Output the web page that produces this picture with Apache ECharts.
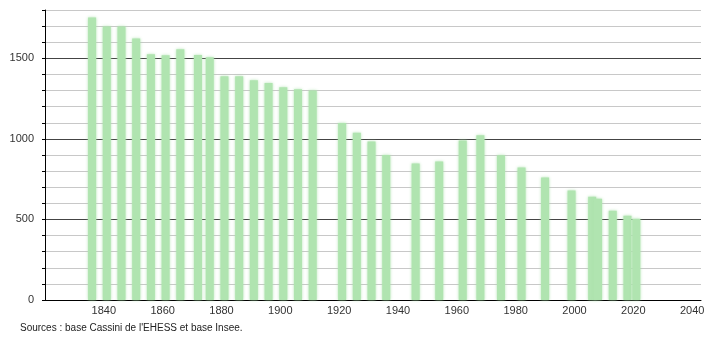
<!DOCTYPE html>
<html><head><meta charset="utf-8">
<script src="https://cdn.jsdelivr.net/npm/echarts@6/dist/echarts.min.js"></script>
<style>html,body{margin:0;padding:0;background:#fff}#c{width:710px;height:340px}</style>
</head><body><div id="c"></div>
<script>
var years = [1836,1841,1846,1851,1856,1861,1866,1872,1876,1881,1886,1891,1896,1901,1906,1911,1921,1926,1931,1936,1946,1954,1962,1968,1975,1982,1990,1999,2006,2008,2013,2018,2021];
var population = [1754,1698,1698,1623,1526,1519,1557,1521,1507,1389,1389,1364,1347,1320,1308,1300,1098,1038,984,900,847,859,990,1023,899,822,760,679,641,629,554,523,504];
var yLabels = [0,500,1000,1500];
var xLabels = [1840,1860,1880,1900,1920,1940,1960,1980,2000,2020,2040];
var sourceText = "Sources : base Cassini de l'EHESS et base Insee.";

var chart = echarts.init(document.getElementById('c'), null, {renderer:'canvas'});
chart.setOption({
  animation:false,
  backgroundColor:'#fff',
  grid:{left:45, right:9, top:10, bottom:40, containLabel:false},
  xAxis:{type:'value', min:1820, max:2043, interval:20,
    axisLine:{show:true, onZero:false, lineStyle:{color:'#000', width:1}},
    axisTick:{show:false},
    splitLine:{show:false},
    axisLabel:{margin:5, color:'#333', fontSize:11, fontFamily:'Liberation Sans, Arial, sans-serif',
      showMinLabel:false, showMaxLabel:false,
      formatter:function(v){return xLabels.indexOf(v)>=0 ? String(v) : '';}}
  },
  yAxis:{type:'value', min:0, max:1800, interval:100,
    axisLine:{show:true, lineStyle:{color:'#000', width:1}},
    axisTick:{show:true, length:3, lineStyle:{color:'#000'}},
    splitLine:{show:true, lineStyle:{color:['#444','#c8c8c8','#c8c8c8','#c8c8c8','#c8c8c8'], width:1}},
    axisLabel:{margin:11, color:'#333', fontSize:11, fontFamily:'Liberation Sans, Arial, sans-serif',
      formatter:function(v){return yLabels.indexOf(v)>=0 ? String(v) : '';}}
  },
  series:[{
    type:'bar', barWidth:8,
    data: years.map(function(y,i){return [y, population[i]];}),
    itemStyle:{color:'#b0e4b0', shadowBlur:3, shadowColor:'rgba(170,225,170,0.9)'}
  }],
  graphic:[{type:'text', left:20, top:323,
    style:{text:sourceText, fill:'#222', fontSize:10, fontFamily:'Liberation Sans, Arial, sans-serif'}}]
});
</script></body></html>
